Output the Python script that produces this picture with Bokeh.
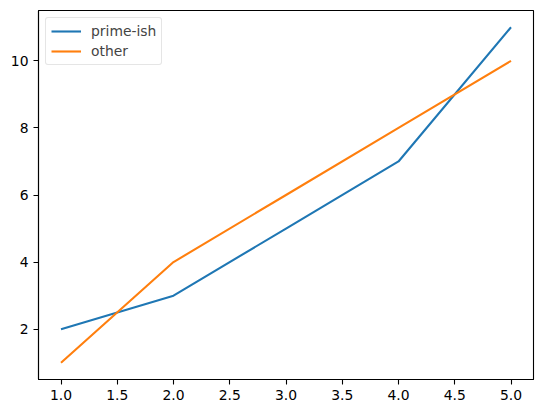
from bokeh.plotting import figure
from bokeh.models import Range1d, FixedTicker, CustomJSTickFormatter, Legend, LegendItem
from bokeh.embed import file_html
from bokeh.resources import INLINE

x = [1, 2, 3, 4, 5]
prime_ish = [2, 3, 5, 7, 11]
other = [1, 4, 6, 8, 10]
x_ticks = [1.0, 1.5, 2.0, 2.5, 3.0, 3.5, 4.0, 4.5, 5.0]
y_ticks = [2, 4, 6, 8, 10]

p = figure(frame_width=495, frame_height=369, output_backend="svg", toolbar_location=None,
           x_range=Range1d(0.8, 5.2), y_range=Range1d(0.5, 11.5),
           min_border_left=38, min_border_top=10, min_border_right=5, min_border_bottom=28)
p.background_fill_color = "white"
p.border_fill_color = "white"
p.outline_line_color = "black"
p.outline_line_width = 1.1
p.xgrid.visible = False
p.ygrid.visible = False

for ax in (p.xaxis[0], p.yaxis[0]):
    ax.major_label_text_font = "DejaVu Sans"
    ax.major_label_text_font_size = "13.9px"
    ax.major_label_text_color = "black"
    ax.major_tick_out = 5
    ax.major_tick_in = 0
    ax.minor_tick_out = 0
    ax.minor_tick_in = 0
    ax.axis_line_color = "black"
    ax.axis_line_width = 1.1
    ax.major_tick_line_width = 1.1
    ax.major_label_standoff = 5

p.xaxis[0].ticker = FixedTicker(ticks=x_ticks)
p.xaxis[0].formatter = CustomJSTickFormatter(code="return tick.toFixed(1);")
p.yaxis[0].ticker = FixedTicker(ticks=y_ticks)

r1 = p.line(x, prime_ish, line_color="#1f77b4", line_width=2.1)
r2 = p.line(x, other, line_color="#ff7f0e", line_width=2.1)

legend = Legend(items=[LegendItem(label="prime-ish", renderers=[r1]),
                       LegendItem(label="other", renderers=[r2])],
                location="top_left")
legend.label_text_font = "DejaVu Sans"
legend.label_text_font_size = "13.9px"
legend.border_line_color = "#cccccc"
legend.border_line_width = 1
legend.border_radius = 3
legend.margin = 7
legend.padding = 5
legend.spacing = 4
legend.glyph_width = 30
legend.glyph_height = 16
legend.label_height = 16
legend.label_standoff = 10
legend.background_fill_alpha = 0.8
p.add_layout(legend)

open("out.html", "w").write(file_html(p, INLINE))
